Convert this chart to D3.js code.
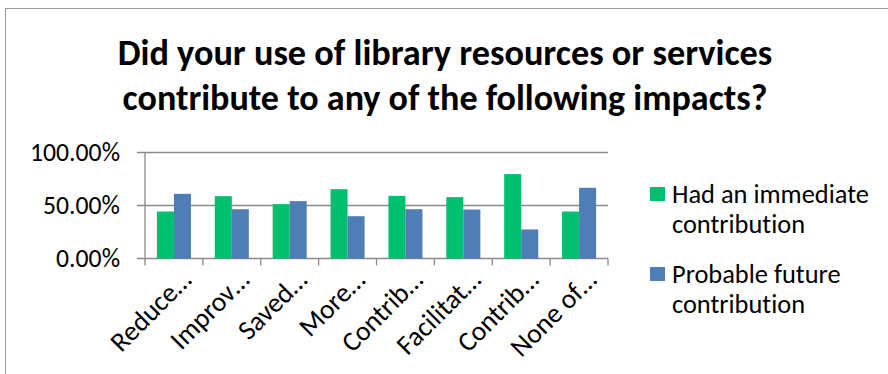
<!DOCTYPE html>
<html><head><meta charset="utf-8">
<script src="https://cdn.jsdelivr.net/npm/d3@7"></script>
<style>body{margin:0;background:#fff}svg{display:block}text{font-variant-ligatures:none;font-feature-settings:"liga" 0}</style>
</head><body>
<svg id="c" width="888" height="374"></svg>
<script>
const categories = ["Reduce…","Improv…","Saved…","More…","Contrib…","Facilitat…","Contrib…","None of…"];
const immediate = [44.3, 58.8, 51.3, 65.4, 59.1, 57.9, 79.6, 44.3];
const future    = [61.0, 46.5, 54.1, 39.9, 46.5, 46.2, 27.4, 66.7];
const seriesNames = ["Had an immediate contribution","Probable future contribution"];
const yTicks = [0, 50, 100];
const titleLines = ["Did your use of library resources or services","contribute to any of the following impacts?"];

const colors = ["#00BF6F","#4F7DB6"];
const font = "Calibri, Carlito, Lato, 'Open Sans', sans-serif";
const svg = d3.select("#c");

function fitSize(text, weight, target, base){
  const t = svg.append("text").attr("font-family",font).attr("font-weight",weight)
    .attr("font-size",base).text(text);
  const w = t.node().getComputedTextLength();
  t.remove();
  return base*target/w;
}

svg.append("rect").attr("x",5.5).attr("y",8.5).attr("width",900).attr("height",400)
  .attr("fill","#fff").attr("stroke","#999");

// title
titleLines.forEach((t,i)=>{
  const fs = fitSize(t,"bold", i===0?655:645, 34);
  svg.append("text").attr("x",445).attr("y",65+i*45).attr("text-anchor","middle")
    .attr("font-family",font).attr("font-weight","bold").attr("font-size",fs).attr("fill","#000").text(t);
});

const x0 = d3.scaleBand().domain(categories.map((c,i)=>i)).range([145,608]);
const x1 = d3.scaleBand().domain([0,1]).range([0,x0.bandwidth()]).paddingOuter(0.7).paddingInner(0);
const y = d3.scaleLinear().domain([0,100]).range([258.5,152.5]);

const axFs = fitSize("100.00%","normal",90,20);

// gridlines
svg.append("g").selectAll("line").data(yTicks).join("line")
  .attr("x1",137).attr("x2",608).attr("y1",d=>y(d)).attr("y2",d=>y(d))
  .attr("stroke","#8a8a8a").attr("stroke-width",1.3);
svg.append("line").attr("x1",145).attr("x2",145).attr("y1",y(100)).attr("y2",y(0))
  .attr("stroke","#8a8a8a").attr("stroke-width",1.3);
svg.append("g").selectAll("text").data(yTicks).join("text")
  .attr("x",120).attr("y",d=>y(d)+8).attr("text-anchor","end")
  .attr("font-family",font).attr("font-size",axFs).attr("fill","#000")
  .text(d=>d3.format(".2f")(d)+"%");

// bars
const g = svg.append("g");
categories.forEach((c,i)=>{
  [immediate[i],future[i]].forEach((v,s)=>{
    g.append("rect").attr("x",x0(i)+x1(s)).attr("width",x1.bandwidth())
      .attr("y",y(v)).attr("height",y(0)-y(v)).attr("fill",colors[s]);
  });
});

// x axis ticks
const ticks = d3.range(categories.length+1).map(i=>145+i*x0.bandwidth());
svg.append("g").selectAll("line").data(ticks).join("line")
  .attr("x1",d=>d).attr("x2",d=>d).attr("y1",y(0)).attr("y2",y(0)+7)
  .attr("stroke","#8a8a8a").attr("stroke-width",1.3);
svg.append("g").selectAll("text").data(categories).join("text")
  .attr("transform",(d,i)=>`translate(${x0(i)+x0.bandwidth()/2+19},${y(0)+23}) rotate(-45)`)
  .attr("text-anchor","end")
  .attr("font-family",font).attr("font-size",axFs*1.07).attr("fill","#000").text(d=>d);

// legend
const legFs = fitSize("Had an immediate","normal",197,20);
const leg = [["Had an immediate","contribution"],["Probable future","contribution"]];
leg.forEach((lines,s)=>{
  const top = 187+s*80;
  svg.append("rect").attr("x",650).attr("y",top).attr("width",15).attr("height",14).attr("fill",colors[s]);
  lines.forEach((t,j)=>{
    svg.append("text").attr("x",672).attr("y",top+16+j*30)
      .attr("font-family",font).attr("font-size",legFs).attr("fill","#000").text(t);
  });
});
</script>
</body></html>
